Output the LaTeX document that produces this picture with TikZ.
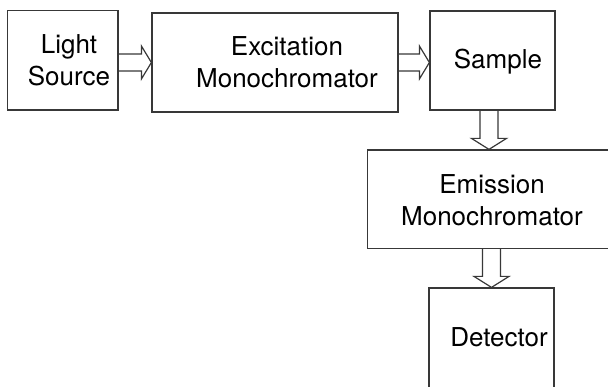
\documentclass[tikz,border=0pt]{standalone}
\usepackage{fontspec}
\setmainfont{TeX Gyre Heros}
\usetikzlibrary{calc}

\tikzset{
  box/.style={draw=black!78, line width=1.2pt, inner sep=0pt},
  flow/.style={draw=black!78, line width=1.2pt, line join=miter},
  lbl/.style={inner sep=0pt, align=center, font=\fontsize{26}{32}\selectfont}
}

% hollow block arrows: #1 start, #2 tip
\newcommand{\hollowright}[2]{%
  \draw[flow] ($(#1)+(0,-8.5)$) -- ($(#2)+(-10,-8.5)$) -- ($(#2)+(-10,-16.5)$)
    -- (#2) -- ($(#2)+(-10,16.5)$) -- ($(#2)+(-10,8.5)$) -- ($(#1)+(0,8.5)$);}
\newcommand{\hollowdown}[2]{%
  \draw[flow] ($(#1)+(-9,0)$) -- ($(#2)+(-9,-11)$) -- ($(#2)+(-17.5,-11)$)
    -- (#2) -- ($(#2)+(17.5,-11)$) -- ($(#2)+(9,-11)$) -- ($(#1)+(9,0)$);}

\begin{document}
\begin{tikzpicture}[x=1pt, y=-1pt]
\useasboundingbox (0,0) rectangle (608,387);
\clip (0,0) rectangle (608,387);

% boxes
\node[box, minimum width=110.5pt, minimum height=99.5pt] (src) at (62.75,60.25) {};
\node[box, minimum width=246pt, minimum height=99pt] (exc) at (275,62.5) {};
\node[box, minimum width=125pt, minimum height=99pt] (smp) at (492.5,60.5) {};
\node[box, minimum width=272.5pt, minimum height=98.5pt] (emi) at (503.75,199.25) {};
\node[box, minimum width=125pt, minimum height=132pt] (det) at (491.5,354) {};

% labels
\node[lbl] (src-t) at (69,60) {Light\\Source};
\node[lbl] (exc-t) at (287,62) {Excitation\\Monochromator};
\node[lbl, anchor=base] (smp-t) at (498,69) {Sample};
\node[lbl] (emi-t) at (492,200) {Emission\\Monochromator};
\node[lbl, anchor=base] (det-t) at (499,347) {Detector};

% arrows
\hollowright{src.east |- exc.west}{exc.west}
\hollowright{exc.east}{smp.west |- exc.east}
\hollowdown{$(smp.south)+(-3.5,0)$}{$(smp.south |- emi.north)+(-3.5,0)$}
\hollowdown{det.north |- emi.south}{det.north}
\end{tikzpicture}
\end{document}
